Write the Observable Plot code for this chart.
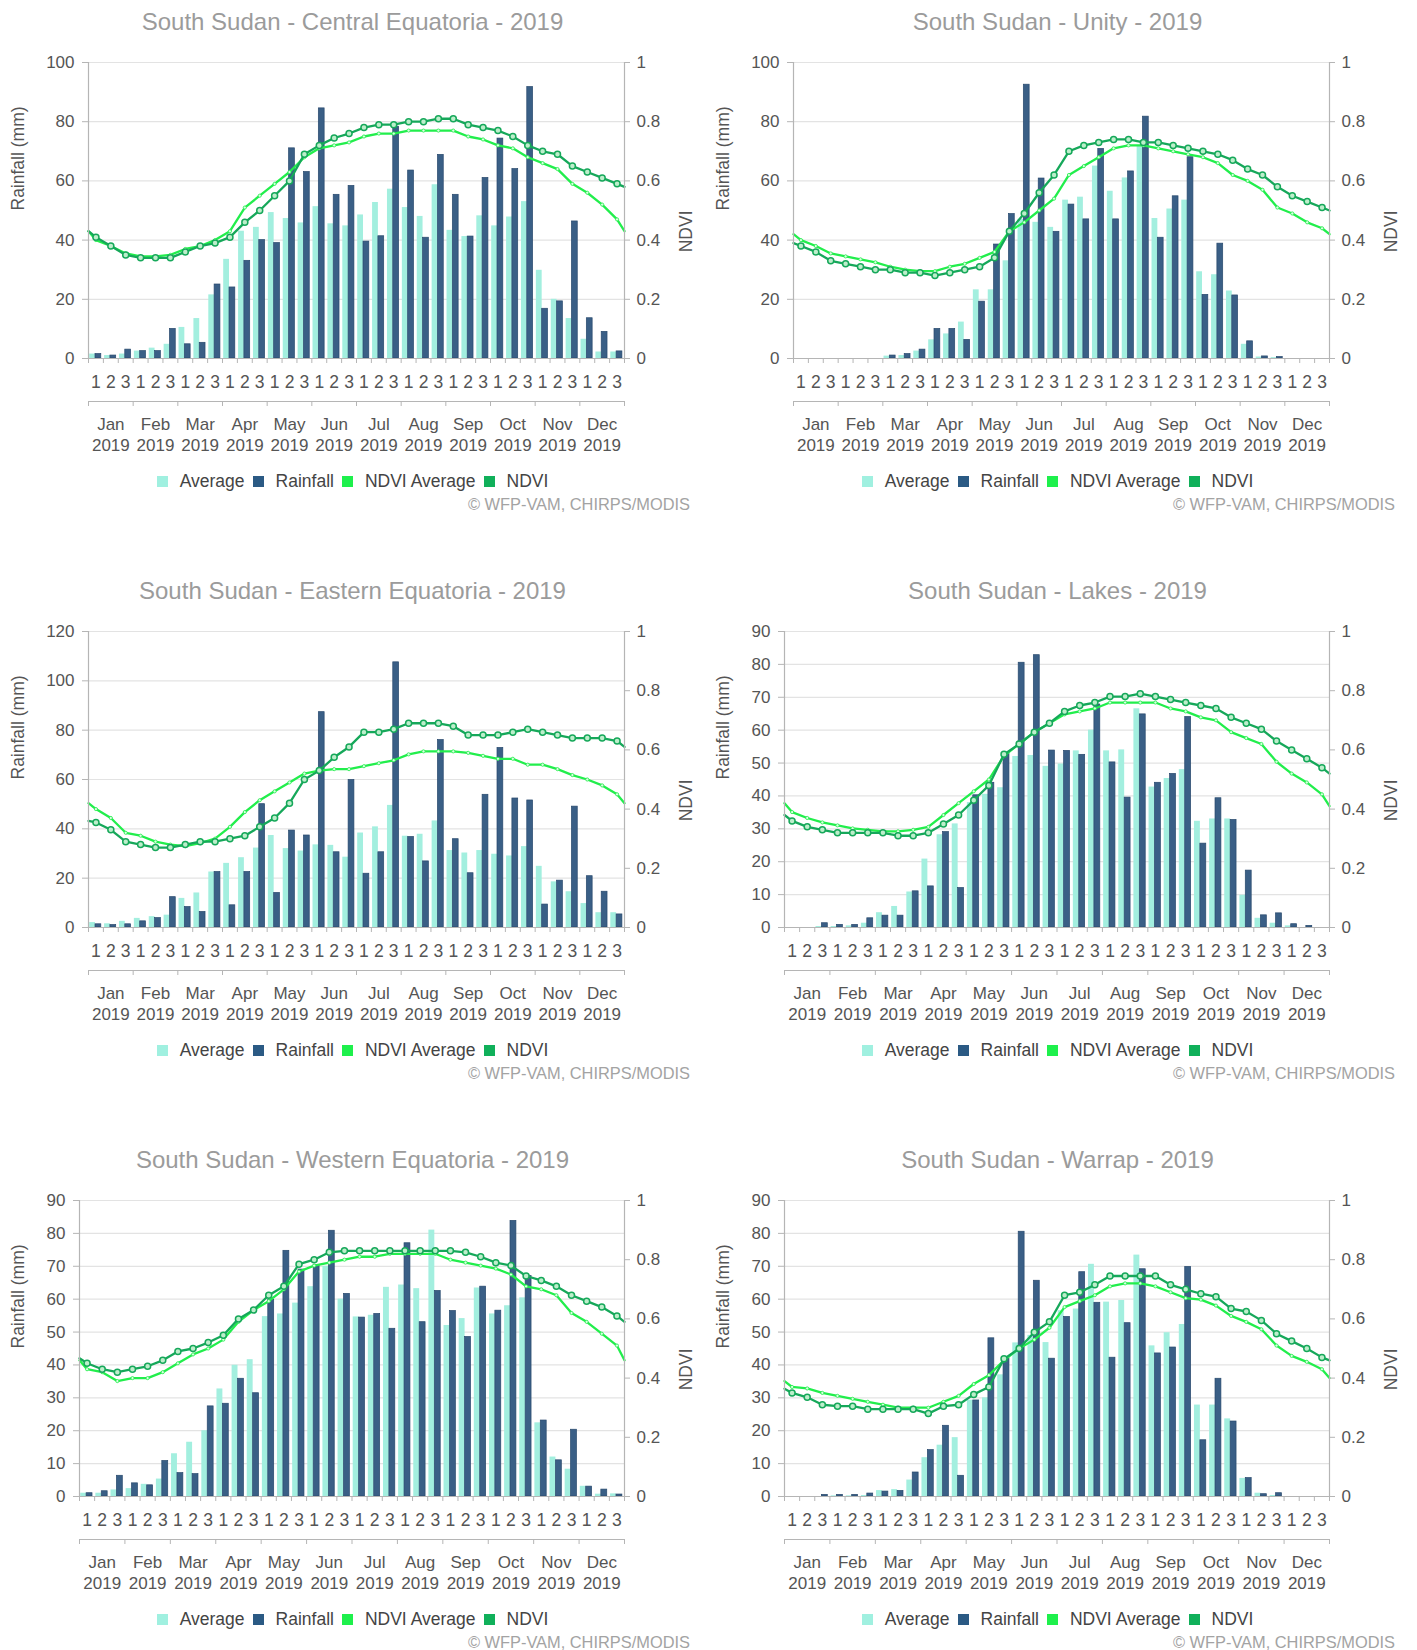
<!DOCTYPE html>
<html><head><meta charset="utf-8">
<script src="https://cdn.jsdelivr.net/npm/d3@7"></script>
<script src="https://cdn.jsdelivr.net/npm/@observablehq/plot@0.6"></script>
<style>
body{margin:0;background:#fff;font-family:"Liberation Sans",Arial,sans-serif;}
#root{position:relative;width:1417px;height:1650px;overflow:hidden;}
.panel{position:absolute;width:705px;height:569px;}
.panel svg{position:absolute;left:0;top:0;}
.title{position:absolute;top:7px;left:0;width:705px;text-align:center;font-size:24px;color:#9b9b9b;line-height:30px;}
.legend{position:absolute;top:470px;left:0;width:705px;display:flex;justify-content:center;font-size:17.5px;color:#444;line-height:22px;}
.legend .item{display:inline-flex;align-items:center;margin:0 4px;}
.legend i{display:inline-block;width:11px;height:11px;margin-right:12px;}
.caption{position:absolute;top:493px;right:15px;font-size:16.4px;color:#a3a3a3;line-height:22px;}
</style>
</head><body>
<div id="root"></div>
<script>
// ---- categories / tick labels ----
const months = ["Jan","Feb","Mar","Apr","May","Jun","Jul","Aug","Sep","Oct","Nov","Dec"];
const dekadLabels = ["1","2","3"];
const yearLabel = "2019";
const ndviTicks = [0, 0.2, 0.4, 0.6, 0.8, 1];
const ndviTickLabels = ["0","0.2","0.4","0.6","0.8","1"];
const seriesNames = ["Average","Rainfall","NDVI Average","NDVI"];

// ---- Central Equatoria ----
const ceAvg  = [1.5,1,1.5, 2.5,3.5,4.8, 10.5,13.5,21.5, 33.5,43,44.3, 49.3,47.3,45.8, 51.3,45.5,44.8, 48.5,52.7,57.2, 51,48,58.7, 43.3,41.2,48.2, 44.8,47.8,53, 29.8,20,13.5, 6.5,2.2,2.2];
const ceRain = [1.5,1,3, 2.5,2.5,10, 4.8,5.3,25, 24,33,40, 39,71,63, 84.5,55.3,58.3, 39.5,41.3,78.3, 63.5,40.8,68.8, 55.3,41.2,61, 74.3,64,91.7, 16.8,19.3,46.3, 13.6,9,2.4];
// NDVI: left edge, 36 dekad centres, right edge
const ceNdvi = [0.43, 0.41,0.38,0.35,0.34,0.34,0.34,0.36,0.38,0.39,0.41,0.46,0.50,0.55,0.60,0.69,0.72,0.745,0.76,0.78,0.79,0.79,0.80,0.80,0.81,0.81,0.79,0.78,0.77,0.75,0.72,0.70,0.69,0.65,0.63,0.61,0.59, 0.58];
const ceNdviAvg = [0.43, 0.40,0.38,0.355,0.345,0.345,0.35,0.37,0.38,0.40,0.43,0.51,0.55,0.59,0.63,0.68,0.71,0.72,0.73,0.75,0.76,0.76,0.77,0.77,0.77,0.77,0.75,0.74,0.72,0.71,0.68,0.66,0.64,0.59,0.56,0.52,0.47, 0.43];

// ---- Unity ----
const unAvg  = [0,0,0, 0,0,0, 0.8,1,2.5, 6.3,8.3,12.3, 23.2,23.2,33, 47,46,44.3, 53.5,54.5,65, 56.5,61,72, 47.3,50.5,53.5, 29.3,28.3,22.8, 4.8,0.5,0.3, 0,0,0];
const unRain = [0,0,0, 0,0,0, 1,1.5,3, 10,10,6.3, 19.2,38.5,48.8, 92.5,60.8,42.8, 52,47,70.8, 47,63.2,81.7, 40.8,54.8,68, 21.5,38.8,21.3, 5.8,0.7,0.5, 0,0,0];
const unNdvi = [0.39, 0.38,0.36,0.33,0.32,0.31,0.30,0.30,0.29,0.29,0.28,0.29,0.30,0.31,0.34,0.43,0.49,0.56,0.62,0.70,0.72,0.73,0.74,0.74,0.73,0.73,0.72,0.71,0.70,0.69,0.67,0.64,0.62,0.58,0.55,0.53,0.51, 0.50];
const unNdviAvg = [0.42, 0.40,0.38,0.355,0.345,0.335,0.325,0.31,0.30,0.295,0.295,0.31,0.32,0.34,0.36,0.43,0.46,0.50,0.54,0.62,0.65,0.68,0.71,0.72,0.72,0.71,0.70,0.69,0.68,0.66,0.62,0.60,0.57,0.51,0.49,0.46,0.44, 0.42];

// ---- Eastern Equatoria ----
const eeAvg  = [2,1.5,2.5, 3.7,4.4,5, 11.8,14,22.5, 26,28.3,32.2, 37.3,32,31, 33.5,33.3,28.5, 38.3,40.8,49.5, 37,37.8,43.2, 31.2,30.2,31.2, 29.7,29,32.8, 24.8,18.5,14.5, 9.7,6,6];
const eeRain = [1.3,1,1.3, 2.5,3.8,12.3, 8.3,6.3,22.5, 9,22.5,50, 14,39.3,37.3, 87.3,30.5,59.8, 21.8,30.5,107.5, 36.7,26.8,76, 35.8,22,53.8, 72.8,52.3,51.5, 9.3,19,49, 20.8,14.5,5.3];
const eeNdvi = [0.36, 0.355,0.33,0.29,0.28,0.27,0.27,0.28,0.29,0.29,0.30,0.31,0.34,0.37,0.42,0.50,0.53,0.575,0.61,0.66,0.66,0.67,0.69,0.69,0.69,0.68,0.65,0.65,0.65,0.66,0.67,0.66,0.65,0.64,0.64,0.64,0.63, 0.61];
const eeNdviAvg = [0.42, 0.40,0.37,0.32,0.31,0.29,0.28,0.275,0.285,0.30,0.34,0.39,0.43,0.46,0.49,0.52,0.53,0.535,0.535,0.545,0.555,0.565,0.585,0.595,0.595,0.595,0.59,0.58,0.57,0.57,0.55,0.55,0.535,0.515,0.50,0.48,0.45, 0.42];

// ---- Lakes ----
const lkAvg  = [0,0,0.3, 0.3,0.5,1.3, 4.5,6.4,10.8, 20.8,28.2,31.5, 38,40.5,42.5, 52,52.3,49, 49.7,53.7,60, 53.7,54,66.5, 42.7,45.3,48, 32.3,33,33, 9.8,2.8,1.3, 0.5,0,0];
const lkRain = [0,0,1.3, 0.8,0.8,2.8, 3.6,3.6,11, 12.5,29,12, 40.2,44,52.8, 80.5,82.8,53.8, 53.7,52.5,67.8, 50.2,39.5,64.8, 44,46.7,64, 25.5,39.3,32.7, 17.3,3.7,4.3, 1,0.5,0];
const lkNdvi = [0.38, 0.36,0.34,0.33,0.32,0.32,0.32,0.32,0.31,0.31,0.32,0.35,0.38,0.43,0.48,0.585,0.62,0.66,0.69,0.73,0.75,0.76,0.78,0.78,0.79,0.78,0.77,0.76,0.75,0.74,0.71,0.69,0.67,0.63,0.60,0.57,0.54, 0.52];
const lkNdviAvg = [0.42, 0.39,0.37,0.355,0.345,0.335,0.33,0.325,0.325,0.33,0.34,0.38,0.42,0.46,0.50,0.58,0.62,0.66,0.69,0.72,0.73,0.74,0.76,0.76,0.76,0.76,0.74,0.73,0.71,0.70,0.66,0.64,0.62,0.56,0.52,0.49,0.45, 0.41];

// ---- Western Equatoria ----
const weAvg  = [1,1,2, 2.4,3.7,5.3, 13,16.5,20, 32.7,39.9,41.6, 54.7,55.5,58.8, 63.8,70,60, 54.6,55.1,63.6, 64.3,63.2,81, 52,54.1,63.4, 55.5,58,60.4, 22.4,12,8.3, 3.1,0.7,0.8];
const weRain = [1,1.6,6.3, 4,3.4,10.8, 7.1,6.8,27.4, 28.2,35.8,31.4, 59.8,74.7,69, 70.4,80.8,61.6, 54.4,55.5,51, 77,53,62.5, 56.4,48.5,63.8, 56.5,83.8,67, 23.1,11,20.3, 3,2.1,0.6];
const weNdvi = [0.467, 0.45,0.43,0.42,0.43,0.44,0.46,0.49,0.50,0.52,0.545,0.60,0.63,0.68,0.71,0.785,0.80,0.825,0.83,0.83,0.83,0.83,0.83,0.83,0.83,0.83,0.825,0.81,0.79,0.78,0.745,0.73,0.71,0.68,0.66,0.64,0.61, 0.59];
const weNdviAvg = [0.46, 0.43,0.42,0.39,0.40,0.40,0.42,0.45,0.48,0.50,0.53,0.59,0.63,0.66,0.70,0.76,0.78,0.79,0.80,0.81,0.81,0.82,0.82,0.82,0.82,0.80,0.79,0.78,0.77,0.75,0.71,0.70,0.68,0.62,0.59,0.55,0.51, 0.46];

// ---- Warrap ----
const wrAvg  = [0,0,0, 0.2,0.2,0.3, 1.8,2.1,5, 11.8,15.6,17.9, 29.3,30,37, 46.7,49,46.8, 56.5,57,70.6, 59.1,59.6,73.4, 45.8,49.8,52.3, 27.8,27.8,23.6, 5.5,1,0.3, 0,0,0];
const wrRain = [0,0,0.5, 0.5,0.5,0.9, 1.5,1.7,7.3, 14.1,21.5,6.3, 29.2,48.1,42, 80.5,65.6,41.9, 54.6,68.2,58.9, 42.2,52.7,69.1, 43.5,45.3,69.8, 17.1,35.8,22.8, 5.6,0.7,1, 0,0,0];
const wrNdvi = [0.364, 0.35,0.335,0.31,0.305,0.305,0.295,0.295,0.295,0.295,0.28,0.305,0.31,0.345,0.37,0.465,0.50,0.555,0.59,0.68,0.69,0.715,0.745,0.745,0.745,0.745,0.715,0.70,0.685,0.675,0.635,0.625,0.595,0.55,0.525,0.50,0.47, 0.46];
const wrNdviAvg = [0.39, 0.37,0.365,0.35,0.34,0.33,0.32,0.31,0.30,0.30,0.30,0.32,0.34,0.38,0.41,0.46,0.50,0.53,0.57,0.64,0.66,0.68,0.71,0.72,0.72,0.71,0.69,0.67,0.665,0.645,0.61,0.59,0.565,0.51,0.475,0.455,0.43, 0.40];

const regions = [
  {name:"Central Equatoria", ymax:100, step:20, avg:ceAvg, rain:ceRain, ndvi:ceNdvi, ndviAvg:ceNdviAvg},
  {name:"Unity", ymax:100, step:20, avg:unAvg, rain:unRain, ndvi:unNdvi, ndviAvg:unNdviAvg},
  {name:"Eastern Equatoria", ymax:120, step:20, avg:eeAvg, rain:eeRain, ndvi:eeNdvi, ndviAvg:eeNdviAvg},
  {name:"Lakes", ymax:90, step:10, avg:lkAvg, rain:lkRain, ndvi:lkNdvi, ndviAvg:lkNdviAvg},
  {name:"Western Equatoria", ymax:90, step:10, avg:weAvg, rain:weRain, ndvi:weNdvi, ndviAvg:weNdviAvg},
  {name:"Warrap", ymax:90, step:10, avg:wrAvg, rain:wrRain, ndvi:wrNdvi, ndviAvg:wrNdviAvg}
];

const C = {avg:"#a3efdf", rain:"#3a5f86", rainStroke:"#28496d", ndviAvg:"#22ee4c", ndvi:"#16a85a", axis:"#b5b5b5", grid:"#e3e3e3", label:"#555"};
const legendColors = ["#a0f0e0","#2b5a84","#1ef04c","#10b05a"];
const FONT = "'Liberation Sans', Arial, sans-serif";

function chart(r) {
  const W = 705, H = 470, mt = 62, ph = 296, mr = 81;
  const ml = r.ymax >= 100 ? 88 : 79;
  const mb = H - mt - ph;
  const nD = r.avg.length;
  const bars = r.avg.map((a, i) => ({i, avg: a, rain: r.rain[i]}));
  const ndx = [0, ...d3.range(nD).map(i => i + 0.5), nD];
  const nd = r.ndvi.map((v, j) => ({x: ndx[j], y: v * r.ymax}));
  const na = r.ndviAvg.map((v, j) => ({x: ndx[j], y: v * r.ymax}));
  const yt = d3.range(0, r.ymax + 1e-9, r.step);
  const rt = ndviTicks.map((v, k) => ({y: v * r.ymax, label: ndviTickLabels[k]}));
  const dekIdx = d3.range(nD);
  const monthBounds = d3.range(0, nD + 1, 3);
  return Plot.plot({
    width: W, height: H, marginTop: mt, marginBottom: mb, marginLeft: ml, marginRight: mr,
    x: {domain: [0, nD], axis: null},
    y: {domain: [0, r.ymax], axis: null},
    style: {fontFamily: FONT, fontSize: "17px", color: C.label, background: "transparent", overflow: "visible"},
    marks: [
      Plot.ruleY(yt.filter(v => v > 0), {stroke: C.grid, strokeWidth: 1.2}),
      Plot.rectY(bars, {x1: d => d.i + 0.08, x2: d => d.i + 0.47, y: "avg", fill: C.avg}),
      Plot.rectY(bars, {x1: d => d.i + 0.47, x2: d => d.i + 0.86, y: "rain", fill: C.rain, stroke: C.rainStroke, strokeWidth: 0.7}),
      Plot.line(na, {x: "x", y: "y", stroke: C.ndviAvg, strokeWidth: 2.3}),
      Plot.dot(na.slice(1, -1), {x: "x", y: "y", r: 1.6, fill: "#d8ffe0", stroke: C.ndviAvg, strokeWidth: 0.8}),
      Plot.line(nd, {x: "x", y: "y", stroke: C.ndvi, strokeWidth: 2.3}),
      Plot.dot(nd.slice(1, -1), {x: "x", y: "y", r: 3, fill: "#bdeecb", stroke: C.ndvi, strokeWidth: 1.5}),
      // frame axes
      Plot.ruleX([0, nD], {stroke: C.axis, strokeWidth: 1.2}),
      Plot.ruleY([0], {stroke: C.axis, strokeWidth: 1.2}),
      // left ticks + labels
      Plot.ruleY(yt, {x1: 0, x2: 0, insetLeft: -6, stroke: C.axis}),
      Plot.text(yt, {y: d => d, frameAnchor: "left", dx: -14, textAnchor: "end", text: d => String(d), fill: C.label, fontSize: 17}),
      // right ticks + labels
      Plot.ruleY(rt, {y: "y", x1: nD, x2: nD, insetRight: -6, stroke: C.axis}),
      Plot.text(rt, {y: "y", frameAnchor: "right", dx: 12, textAnchor: "start", text: "label", fill: C.label, fontSize: 17}),
      // dekad ticks + labels
      Plot.ruleX(d3.range(nD + 1), {y1: 0, y2: 0, insetBottom: -5, stroke: C.axis}),
      Plot.text(dekIdx, {x: i => i + 0.5, frameAnchor: "bottom", dy: 24, lineAnchor: "middle", text: i => dekadLabels[i % 3], fill: C.label, fontSize: 17.5}),
      // month axis
      Plot.ruleY([0], {dy: 43, stroke: C.axis, strokeWidth: 1.2}),
      Plot.ruleX(monthBounds, {y1: 0, y2: 0, insetTop: 43, insetBottom: -48, stroke: C.axis}),
      Plot.text(months, {x: (d, i) => i * 3 + 1.5, frameAnchor: "bottom", dy: 75.5, lineAnchor: "middle", lineHeight: 1.2, text: d => d + "\n" + yearLabel, fill: C.label, fontSize: 17}),
      // axis titles
      Plot.text(["Rainfall (mm)"], {frameAnchor: "left", dx: 18 - ml, rotate: -90, text: d => d, fill: C.label, fontSize: 17.5}),
      Plot.text(["NDVI"], {frameAnchor: "right", dx: 62, rotate: -90, text: d => d, fill: C.label, fontSize: 17.5})
    ]
  });
}

const root = document.getElementById("root");
const rowTops = [0, 569, 1138];
regions.forEach((r, k) => {
  const col = k % 2, row = Math.floor(k / 2);
  const p = document.createElement("div");
  p.className = "panel";
  p.style.left = (col * 705) + "px";
  p.style.top = rowTops[row] + "px";
  const svg = chart(r);
  p.appendChild(svg);
  const t = document.createElement("div");
  t.className = "title";
  t.textContent = "South Sudan - " + r.name + " - 2019";
  p.appendChild(t);
  const lg = document.createElement("div");
  lg.className = "legend";
  seriesNames.forEach((s, j) => {
    const it = document.createElement("span");
    it.className = "item";
    const sw = document.createElement("i");
    sw.style.background = legendColors[j];
    it.appendChild(sw);
    it.appendChild(document.createTextNode(s));
    lg.appendChild(it);
  });
  p.appendChild(lg);
  const cap = document.createElement("div");
  cap.className = "caption";
  cap.textContent = "\u00A9 WFP-VAM, CHIRPS/MODIS";
  p.appendChild(cap);
  root.appendChild(p);
});
</script>
</body></html>
